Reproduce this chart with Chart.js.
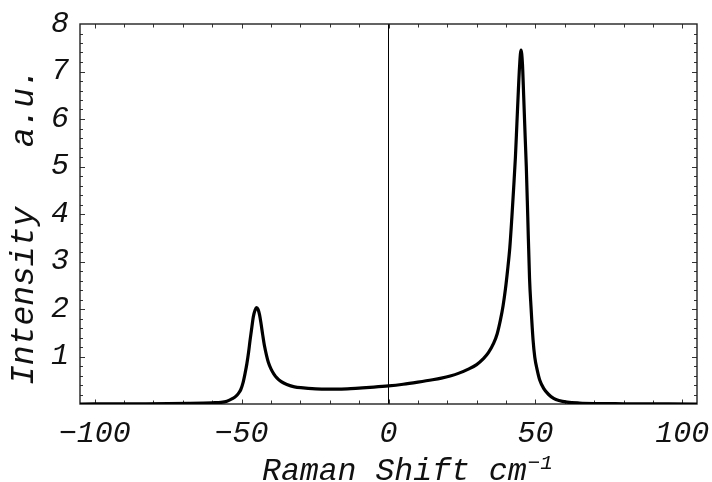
<!DOCTYPE html>
<html>
<head>
<meta charset="utf-8">
<script src="https://cdn.jsdelivr.net/npm/chart.js@4/dist/chart.umd.min.js"></script>
<style>
html,body{margin:0;padding:0;background:#fff;}
#wrap{width:712px;height:482px;}
</style>
</head>
<body>
<div id="wrap"><canvas id="c" width="712" height="482"></canvas></div>
<script>
// Raman shift (cm^-1)
const ramanShift = [
  -105, -95, -85, -75, -68, -63, -60, -57, -55, -53, -52, -51, -50.3, -49.5, -48.8, -48.2,
  -47.6, -47.1, -46.5, -46, -45.4, -44.9, -44.4, -43.9, -43.4, -42.8, -42.2, -41.5, -40.9,
  -40, -39, -38, -36.5, -34.6, -32, -29, -26, -22, -18, -14, -10, -5, 0, 5, 10, 15, 18, 21,
  24, 27, 30, 32.4, 34, 35.8, 37, 38.1, 39, 39.8, 40.5, 41.3, 42, 42.6, 43.2, 43.7, 44.2,
  44.6, 45.1, 45.6, 46, 46.5, 46.9, 47.4, 48, 48.5, 49.2, 49.8, 50.6, 51.5, 52.8, 54.5,
  56.2, 58, 60.8, 65, 70, 80, 90, 105
];
// Intensity (a.u.)
const intensity = [
  0, 0.002, 0.004, 0.007, 0.012, 0.018, 0.025, 0.035, 0.06, 0.12, 0.16, 0.23, 0.3, 0.45, 0.65, 0.85,
  1.1, 1.35, 1.62, 1.84, 1.98, 2.03, 1.99, 1.88, 1.7, 1.45, 1.22, 1.02, 0.88,
  0.74, 0.63, 0.55, 0.47, 0.41, 0.36, 0.34, 0.325, 0.315, 0.315, 0.32, 0.335, 0.355, 0.38, 0.415, 0.46, 0.51, 0.545, 0.59,
  0.65, 0.73, 0.83, 0.96, 1.08, 1.28, 1.48, 1.77, 2.07, 2.42, 2.8, 3.3, 3.94, 4.55, 5.2, 5.9, 6.6,
  7.1, 7.45, 7.15, 6.5, 5.65, 5.0, 3.94, 2.65, 2.05, 1.35, 0.98, 0.72, 0.5, 0.33, 0.2,
  0.12, 0.075, 0.04, 0.02, 0.01, 0.005, 0.002, 0
];
const xTickValues = [-100, -50, 0, 50, 100];
const yTickValues = [1, 2, 3, 4, 5, 6, 7, 8];
const xTitle = 'Raman Shift cm';
const xTitleSup = '\u22121';
const yTitle = 'Intensity   a.u.';

const MONO = '"Liberation Mono", "DejaVu Sans Mono", monospace';

const fmt = v => (v < 0 ? '\u2212' + Math.abs(v) : String(v));

const framePlugin = {
  id: 'frame',
  beforeDatasetsDraw(chart) {
    const { ctx, chartArea: a, scales: { x, y } } = chart;
    ctx.save();
    ctx.strokeStyle = '#333';
    ctx.lineWidth = 1;
    for (let v = -100; v <= 100; v += 10) {
      const px = Math.round(x.getPixelForValue(v)) + 0.5;
      const len = (v % 50 === 0) ? 4.5 : 3.5;
      ctx.beginPath();
      ctx.moveTo(px, a.bottom); ctx.lineTo(px, a.bottom - len);
      ctx.moveTo(px, a.top); ctx.lineTo(px, a.top + len);
      ctx.stroke();
    }
    for (let i = 1; i < 40; i++) {
      const v = i / 5;
      const py = Math.round(y.getPixelForValue(v)) + 0.5;
      const len = (i % 5 === 0) ? 5 : 3;
      ctx.beginPath();
      ctx.moveTo(a.left, py); ctx.lineTo(a.left + len, py);
      ctx.moveTo(a.right, py); ctx.lineTo(a.right - len, py);
      ctx.stroke();
    }
    ctx.lineWidth = 1.4;
    ctx.strokeStyle = '#222';
    ctx.strokeRect(a.left, a.top, a.right - a.left, a.bottom - a.top);
    ctx.restore();
  },
  afterDraw(chart) {
    const { ctx } = chart;
    ctx.save();
    ctx.fillStyle = '#111';
    ctx.textBaseline = 'alphabetic';
    ctx.textAlign = 'left';
    ctx.font = 'italic 31.5px ' + MONO;
    const xs = 262, xb = 480;
    ctx.fillText(xTitle, xs, xb);
    const w = ctx.measureText(xTitle).width;
    ctx.font = 'italic 21px ' + MONO;
    ctx.fillText(xTitleSup, xs + w + 1, xb - 11);
    ctx.translate(33, 385);
    ctx.rotate(-Math.PI / 2);
    ctx.font = 'italic 33px ' + MONO;
    ctx.fillText(yTitle, 0, 0);
    ctx.restore();
  }
};

new Chart(document.getElementById('c'), {
  type: 'line',
  data: {
    datasets: [{
      data: ramanShift.map((v, i) => ({ x: v, y: intensity[i] })),
      borderColor: '#000',
      borderWidth: 3.2,
      pointRadius: 0,
      fill: false,
      cubicInterpolationMode: 'monotone'
    }]
  },
  options: {
    responsive: false,
    animation: false,
    layout: { padding: { left: 0, right: 15, top: 24, bottom: 0 } },
    plugins: { legend: { display: false }, tooltip: { enabled: false } },
    scales: {
      x: {
        type: 'linear',
        min: -105,
        max: 105,
        afterBuildTicks: s => { s.ticks = xTickValues.map(v => ({ value: v })); },
        afterFit: s => { s.height = 78; s.paddingLeft = 0; s.paddingRight = 0; },
        grid: {
          drawTicks: false,
          lineWidth: 1,
          color: c => (c.tick && c.tick.value === 0 ? '#000' : 'rgba(0,0,0,0)')
        },
        border: { display: false },
        ticks: {
          padding: 12,
          color: '#111',
          maxRotation: 0,
          autoSkip: false,
          font: { family: MONO, size: 30, style: 'italic' },
          callback: v => fmt(v)
        }
      },
      y: {
        type: 'linear',
        min: 0,
        max: 8,
        afterBuildTicks: s => { s.ticks = yTickValues.map(v => ({ value: v })); },
        afterFit: s => { s.width = 80; s.paddingTop = 0; s.paddingBottom = 0; },
        grid: { display: false, drawTicks: false },
        border: { display: false },
        ticks: {
          padding: 11,
          color: '#111',
          autoSkip: false,
          font: { family: MONO, size: 30, style: 'italic' },
          callback: v => fmt(v)
        }
      }
    }
  },
  plugins: [framePlugin]
});
</script>
</body>
</html>
